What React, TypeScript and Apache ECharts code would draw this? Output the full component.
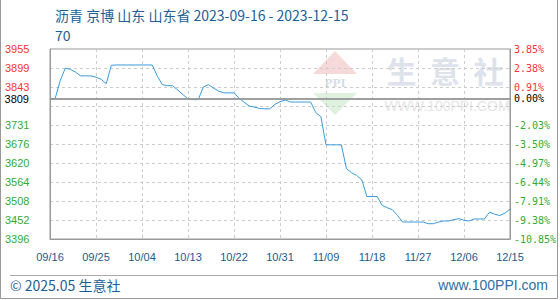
import React, { useEffect, useRef } from "react";
import * as echarts from "echarts";

const TITLE = "沥青 京博 山东 山东省 2023-09-16 - 2023-12-15";
const SUBTITLE = "70";
const START_DATE = "2023-09-16";
const DAY_COUNT = 91;

const PRICES = [
  3809, 3809, 3862, 3899, 3895, 3887, 3876, 3876, 3876, 3872,
  3866, 3853, 3907, 3908, 3908, 3908, 3908, 3908, 3908, 3908,
  3908, 3875, 3850, 3847, 3847, 3834, 3821, 3808, 3806, 3806,
  3843, 3850, 3840, 3831, 3826, 3826, 3826, 3810, 3798, 3787,
  3784, 3780, 3779, 3779, 3792, 3800, 3805, 3799, 3799, 3799,
  3799, 3799, 3768, 3756, 3673, 3673, 3673, 3673, 3603, 3591,
  3583, 3570, 3521, 3521, 3521, 3495, 3488, 3482, 3465, 3446,
  3446, 3446, 3446, 3446, 3441, 3441, 3446, 3449, 3449, 3453,
  3456, 3451, 3449, 3455, 3455, 3455, 3475, 3469, 3465, 3472,
  3484,
];

const BASE_PRICE = 3809;
const BASE_LEFT_LABEL = "3809";
const BASE_RIGHT_LABEL = "0.00%";
const AXIS_MIN = 3396;
const AXIS_STEP = 55.9;
const AXIS_STEPS = 10;
const LEFT_TICKS = ["3396", "3452", "3508", "3564", "3620", "3676", "3731", "", "3843", "3899", "3955"];
const RIGHT_TICKS = ["-10.85%", "-9.38%", "-7.91%", "-6.44%", "-4.97%", "-3.50%", "-2.03%", "", "0.91%", "2.38%", "3.85%"];
const UP_FROM_INDEX = 8;

function buildDates(start: string, n: number): string[] {
  const out: string[] = [];
  const d0 = new Date(start + "T00:00:00Z");
  for (let i = 0; i < n; i++) {
    const d = new Date(d0.getTime() + i * 86400000);
    const mm = String(d.getUTCMonth() + 1).padStart(2, "0");
    const dd = String(d.getUTCDate()).padStart(2, "0");
    out.push(`${mm}/${dd}`);
  }
  return out;
}

const DATES = buildDates(START_DATE, DAY_COUNT);

const RED = "#ff3333";
const GREEN = "#33aa33";
const BLUE_TEXT = "#1b5f96";

export default function App() {
  const ref = useRef<HTMLDivElement>(null);
  useEffect(() => {
    document.body.style.margin = "0";
    if (!ref.current) return;
    const chart = echarts.init(ref.current, null, { renderer: "svg" });
    const offset = (v: number) => +(v - AXIS_MIN).toFixed(3);
    const span = +(AXIS_STEP * AXIS_STEPS).toFixed(3);
    const labelFor = (ticks: string[]) => (val: number) => {
      const i = Math.round(val / AXIS_STEP);
      const t = ticks[i];
      if (!t) return "";
      return `{${i >= UP_FROM_INDEX ? "up" : "dn"}|${t}}`;
    };
    const option: any = {
      animation: false,
      backgroundColor: "#ffffff",
      title: {
        text: TITLE + "\n" + SUBTITLE,
        left: 50,
        top: 0,
        textStyle: {
          color: BLUE_TEXT,
          fontSize: 14,
          fontWeight: "normal",
          fontFamily: "Noto Sans CJK SC",
          lineHeight: 20,
        },
      },
      grid: {
        left: 50,
        top: 49,
        width: 460,
        height: 190,
        show: true,
        borderColor: "#999999",
        borderWidth: 1,
        containLabel: false,
      },
      xAxis: {
        type: "category",
        data: DATES,
        boundaryGap: false,
        axisLine: { show: true, lineStyle: { color: "#999999" } },
        axisTick: { show: false },
        axisLabel: {
          interval: 8,
          color: "#1a5a8c",
          fontSize: 11,
          fontFamily: "Liberation Sans",
          margin: 12,
        },
        splitLine: {
          show: true,
          interval: 8,
          lineStyle: { color: "#cccccc", type: [3, 3] },
        },
      },
      yAxis: [
        {
          type: "value",
          min: 0,
          max: span,
          interval: AXIS_STEP,
          position: "left",
          axisLine: { show: true, lineStyle: { color: "#999999" } },
          axisTick: { show: false },
          splitLine: { show: true, lineStyle: { color: "#cccccc", type: [3, 3] } },
          axisLabel: {
            align: "left",
            margin: 45,
            fontSize: 11,
            fontFamily: "Liberation Sans",
            formatter: labelFor(LEFT_TICKS),
            rich: {
              up: { color: RED, fontSize: 11, fontFamily: "Liberation Sans" },
              dn: { color: GREEN, fontSize: 11, fontFamily: "Liberation Sans" },
            },
          },
        },
        {
          type: "value",
          min: 0,
          max: span,
          interval: AXIS_STEP,
          position: "right",
          axisLine: { show: true, lineStyle: { color: "#999999" } },
          axisTick: { show: false },
          splitLine: { show: false },
          axisLabel: {
            align: "left",
            margin: 4,
            fontSize: 10,
            fontFamily: "DejaVu Sans Mono",
            formatter: labelFor(RIGHT_TICKS),
            rich: {
              up: { color: RED, fontSize: 10, fontFamily: "DejaVu Sans Mono" },
              dn: { color: GREEN, fontSize: 10, fontFamily: "DejaVu Sans Mono" },
            },
          },
        },
      ],
      graphic: [
        {
          type: "polygon",
          z: -5,
          silent: true,
          shape: { points: [[335, 51], [357, 74], [313, 74]] },
          style: { fill: "#f8d9d9" },
        },
        {
          type: "text",
          z: -5,
          silent: true,
          x: 335,
          y: 82,
          style: {
            text: "PPI",
            fill: "#d6dde9",
            font: "bold 13px 'Liberation Serif'",
            align: "center",
            verticalAlign: "middle",
          },
        },
        {
          type: "polygon",
          z: -5,
          silent: true,
          shape: { points: [[313, 93], [357, 93], [335, 115]] },
          style: { fill: "#dff2df" },
        },
        {
          type: "text",
          z: -5,
          silent: true,
          x: 445,
          y: 70,
          style: {
            text: "生  意  社",
            fill: "#dde2eb",
            font: "bold 30px 'Noto Sans CJK SC'",
            align: "center",
            verticalAlign: "middle",
          },
        },
        {
          type: "text",
          z: -5,
          silent: true,
          x: 447,
          y: 106,
          style: {
            text: "WWW.100PPI.COM",
            fill: "#e6e6e6",
            font: "14px 'Liberation Sans'",
            align: "center",
            verticalAlign: "middle",
          },
        },
        {
          type: "line",
          silent: true,
          shape: { x1: 10, y1: 275.5, x2: 557, y2: 275.5 },
          style: { stroke: "#aaaaaa", lineWidth: 1 },
        },
        {
          type: "text",
          silent: true,
          x: 10,
          y: 285,
          style: {
            text: "© 2025.05 生意社",
            fill: BLUE_TEXT,
            font: "14px 'Noto Sans CJK SC'",
            align: "left",
            verticalAlign: "middle",
          },
        },
        {
          type: "text",
          silent: true,
          x: 548,
          y: 285,
          style: {
            text: "www.100PPI.com",
            fill: "#2d6fa3",
            font: "14px 'Liberation Sans'",
            align: "right",
            verticalAlign: "middle",
          },
        },
        {
          type: "polyline",
          silent: true,
          shape: { points: [[0.5, 0], [0.5, 298.5], [557.5, 298.5], [557.5, 0]] },
          style: { stroke: "#999999", lineWidth: 1, fill: null },
        },
      ],
      series: [
        {
          type: "line",
          data: PRICES.map(offset),
          symbol: "none",
          lineStyle: { color: "#3a9ad9", width: 1 },
          z: 3,
          markLine: {
            silent: true,
            symbol: "none",
            lineStyle: { color: "#999999", width: 1.5, type: "solid" },
            data: [
              {
                yAxis: offset(BASE_PRICE),
                label: {
                  show: true,
                  position: "start",
                  distance: 21,
                  formatter: BASE_LEFT_LABEL,
                  color: "#000000",
                  fontSize: 11,
                  fontFamily: "Liberation Sans",
                },
              },
              {
                yAxis: offset(BASE_PRICE),
                label: {
                  show: true,
                  position: "end",
                  distance: 4,
                  formatter: BASE_RIGHT_LABEL,
                  color: "#000000",
                  fontSize: 10,
                  fontFamily: "DejaVu Sans Mono",
                },
              },
            ],
          },
        },
      ],
    };
    chart.setOption(option);
    return () => chart.dispose();
  }, []);
  return <div ref={ref} style={{ width: 560, height: 300 }} />;
}
